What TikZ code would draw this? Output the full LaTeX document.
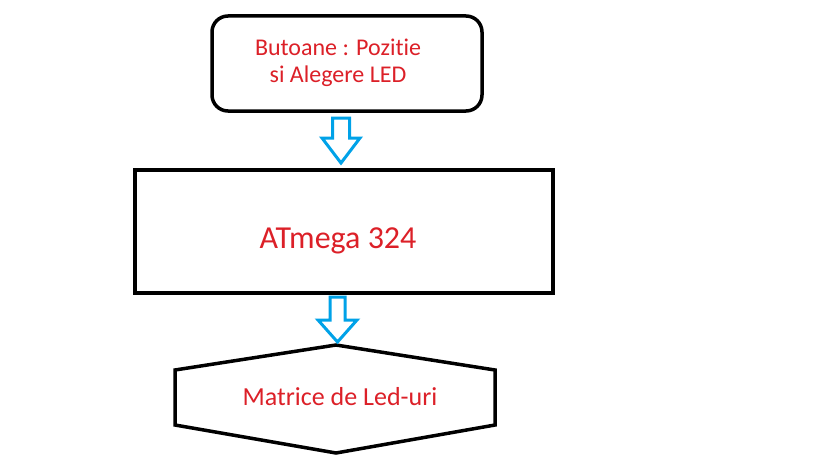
\documentclass[tikz,border=0pt]{standalone}
\usepackage{fontspec}
\setmainfont[Ligatures=NoCommon]{Carlito}
\definecolor{ledred}{RGB}{220,32,40}
\definecolor{ledblue}{RGB}{0,162,232}
\begin{document}
\begin{tikzpicture}[x=1pt,y=-1pt,
  bloc/.style={draw, line width=3.5pt, inner sep=0pt, outer sep=0pt},
  eticheta/.style={text=ledred, align=center, anchor=base},
  sageata/.style={draw=ledblue, line width=3pt, fill=white, line join=miter}]
\useasboundingbox [fill=white] (0,0) rectangle (819,460);
\node [bloc, rounded corners=16pt, minimum width=270pt, minimum height=95pt] (butoane) at (347,63.5) {};
\node [bloc, minimum width=418pt, minimum height=123pt] (atmega) at (344,231.5) {};
\node [eticheta, font=\fontsize{24}{27}\selectfont] (butoanetext) at (338,82) {Butoane : Pozitie\\si Alegere LED};
\node [eticheta, font=\fontsize{32}{36}\selectfont] (atmegatext) at (338,248) {ATmega 324};
\node [eticheta, font=\fontsize{26}{30}\selectfont] (matrice) at (340,405) {Matrice de Led-uri};
\draw [bloc] (336,345) -- (495,370) -- (495,425) -- (336,453) -- (175,425) -- (175,370) -- cycle;
\draw [sageata, shift={(butoane.south)}] (-14.5,7) -- (2.5,7) -- (2.5,27) -- (13,27) -- (-6,52) -- (-25,27) -- (-14.5,27) -- cycle;
\draw [sageata, shift={(atmega.south)}] (-14,4) -- (1,4) -- (1,27) -- (13,27) -- (-6.5,49) -- (-26,27) -- (-14,27) -- cycle;
\end{tikzpicture}
\end{document}
